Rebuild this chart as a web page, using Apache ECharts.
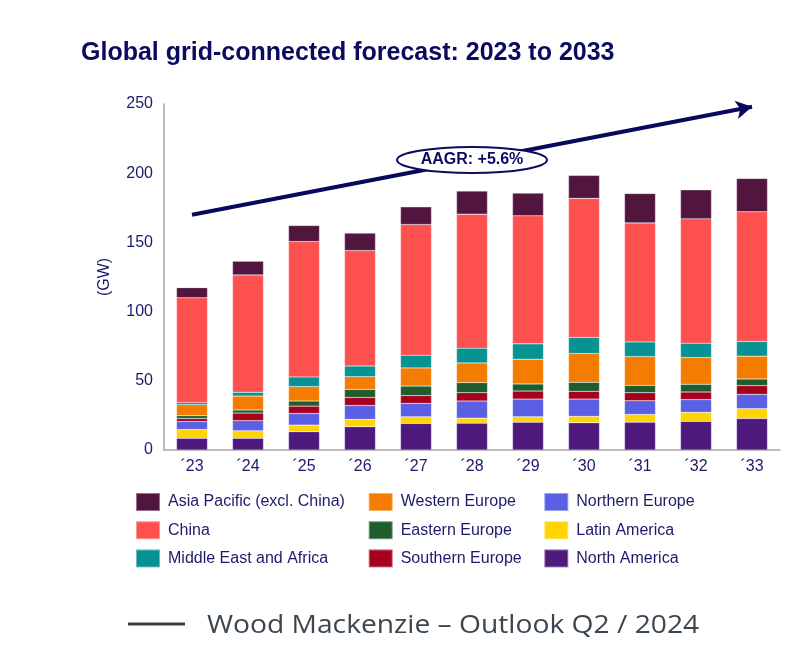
<!DOCTYPE html>
<html>
<head>
<meta charset="utf-8">
<script src="https://cdn.jsdelivr.net/npm/echarts@6/dist/echarts.min.js"></script>
<style>
html,body{margin:0;padding:0;background:#fff;}
#chart{width:800px;height:645px;}
</style>
</head>
<body>
<div id="chart"></div>
<script>
const categories = ['\u00B423','\u00B424','\u00B425','\u00B426','\u00B427','\u00B428','\u00B429','\u00B430','\u00B431','\u00B432','\u00B433'];
const northAmerica   = [8.5, 8.5, 13.2, 16.8, 19.2, 19.4, 20.1, 19.7, 20.1, 20.7, 22.8];
const latinAmerica   = [6.3, 5.4, 4.8, 5.3, 4.8, 3.6, 3.9, 4.6, 5.6, 6.5, 7.1];
const northernEurope = [5.8, 7.3, 8.4, 10.1, 9.7, 12.4, 12.8, 12.5, 9.9, 9.2, 10.3];
const southernEurope = [2.2, 5.5, 5.3, 5.8, 5.6, 6.0, 5.8, 5.6, 5.8, 5.5, 6.3];
const easternEurope  = [2.0, 2.2, 3.7, 5.8, 6.9, 7.3, 5.1, 6.5, 5.3, 5.6, 4.8];
const westernEurope  = [7.9, 10.1, 10.4, 9.2, 13.1, 14.2, 17.9, 20.8, 20.8, 19.3, 16.5];
const middleEastAfrica = [1.5, 2.7, 7.0, 7.7, 9.2, 10.7, 11.1, 11.6, 10.6, 10.4, 10.6];
const china          = [75.8, 84.8, 97.8, 83.4, 94.4, 96.8, 92.5, 100.5, 86.0, 89.8, 93.7];
const asiaPacific    = [7.3, 9.9, 11.6, 12.6, 12.8, 16.7, 16.4, 16.6, 21.2, 21.0, 24.1];
const yTicks = [0, 50, 100, 150, 200, 250];
const trendStart = 170;
const trendEnd = 248;
const trendLabel = 'AAGR: +5.6%';

const seriesDefs = [
  ['North America', northAmerica, '#4F1A7E'],
  ['Latin America', latinAmerica, '#FFD400'],
  ['Northern Europe', northernEurope, '#5A5FE3'],
  ['Southern Europe', southernEurope, '#A6001F'],
  ['Eastern Europe', easternEurope, '#1F5C2E'],
  ['Western Europe', westernEurope, '#F47C00'],
  ['Middle East and Africa', middleEastAfrica, '#069293'],
  ['China', china, '#FF5050'],
  ['Asia Pacific (excl. China)', asiaPacific, '#52163E']
];

const navy = '#1B1B6B';
const font = '"Liberation Sans", Arial, sans-serif';

const series = seriesDefs.map(function (d, i) {
  const s = {
    name: d[0],
    type: 'bar',
    stack: 'total',
    barWidth: 31,
    data: d[1],
    itemStyle: { color: d[2], borderColor: 'rgba(255,255,255,0.4)', borderWidth: 0.5 },
    emphasis: { disabled: true }
  };
  if (i === seriesDefs.length - 1) {
    s.markLine = {
      silent: true,
      symbol: ['none', 'arrow'],
      symbolSize: [14, 16],
      label: { show: false },
      lineStyle: { color: '#08085E', width: 4, type: 'solid' },
      data: [[{ coord: [0, trendStart] }, { coord: [categories.length - 1, trendEnd] }]]
    };
  }
  return s;
});

function legendCol(left, names) {
  return {
    orient: 'vertical', left: left, top: 492, padding: 0,
    itemWidth: 24, itemHeight: 18, itemGap: 8.2, icon: 'rect',
    selectedMode: false,
    textStyle: { fontSize: 16, color: navy, fontFamily: font, padding: [0, 0, 0, 3] },
    data: names
  };
}

const chart = echarts.init(document.getElementById('chart'), null, { renderer: 'canvas' });
chart.setOption({
  backgroundColor: '#ffffff',
  animation: false,
  title: {
    text: 'Global grid-connected forecast: 2023 to 2033',
    left: 81, top: 41, padding: 0,
    textStyle: { fontSize: 25, fontWeight: 'bold', color: '#0A0A5F', fontFamily: font }
  },
  grid: { left: 164, right: 20, top: 104, bottom: 195, containLabel: false },
  legend: [
    legendCol(135, ['Asia Pacific (excl. China)', 'China', 'Middle East and Africa']),
    legendCol(367.7, ['Western Europe', 'Eastern Europe', 'Southern Europe']),
    legendCol(543.3, ['Northern Europe', 'Latin America', 'North America'])
  ],
  xAxis: {
    type: 'category',
    data: categories,
    axisLine: { lineStyle: { color: '#A6A6A6', width: 1.5 } },
    axisTick: { show: false },
    axisLabel: { fontSize: 16, color: navy, fontFamily: font, margin: 9 }
  },
  yAxis: {
    type: 'value',
    min: yTicks[0], max: yTicks[yTicks.length - 1], interval: 50,
    name: '(GW)', nameLocation: 'middle', nameGap: 51, nameRotate: 90,
    nameTextStyle: { fontSize: 16, color: navy, fontFamily: font },
    axisLine: { show: true, lineStyle: { color: '#A6A6A6', width: 1.5 } },
    axisTick: { show: false },
    splitLine: { show: false },
    axisLabel: { fontSize: 16, color: navy, fontFamily: font, margin: 11 }
  },
  graphic: [
    { type: 'ellipse', z: 100, shape: { cx: 472, cy: 160, rx: 75, ry: 13 },
      style: { fill: '#ffffff', stroke: '#0A0A5F', lineWidth: 2 } },
    { type: 'text', z: 101, x: 472, y: 160,
      style: { text: trendLabel, align: 'center', verticalAlign: 'middle', fill: '#0A0A5F',
        font: 'bold 16px "Liberation Sans", Arial, sans-serif' } },
    { type: 'line', z: 100, shape: { x1: 128, y1: 624, x2: 185, y2: 624 },
      style: { stroke: '#37424A', lineWidth: 3 } },
    { type: 'text', z: 100, x: 207, y: 626, scaleX: 1.085,
      style: { text: 'Wood Mackenzie \u2013 Outlook Q2 / 2024', align: 'left', verticalAlign: 'middle',
        fill: '#3B4650', font: '26px "Open Sans", Lato, sans-serif' } }
  ],
  series: series
});
</script>
</body>
</html>
